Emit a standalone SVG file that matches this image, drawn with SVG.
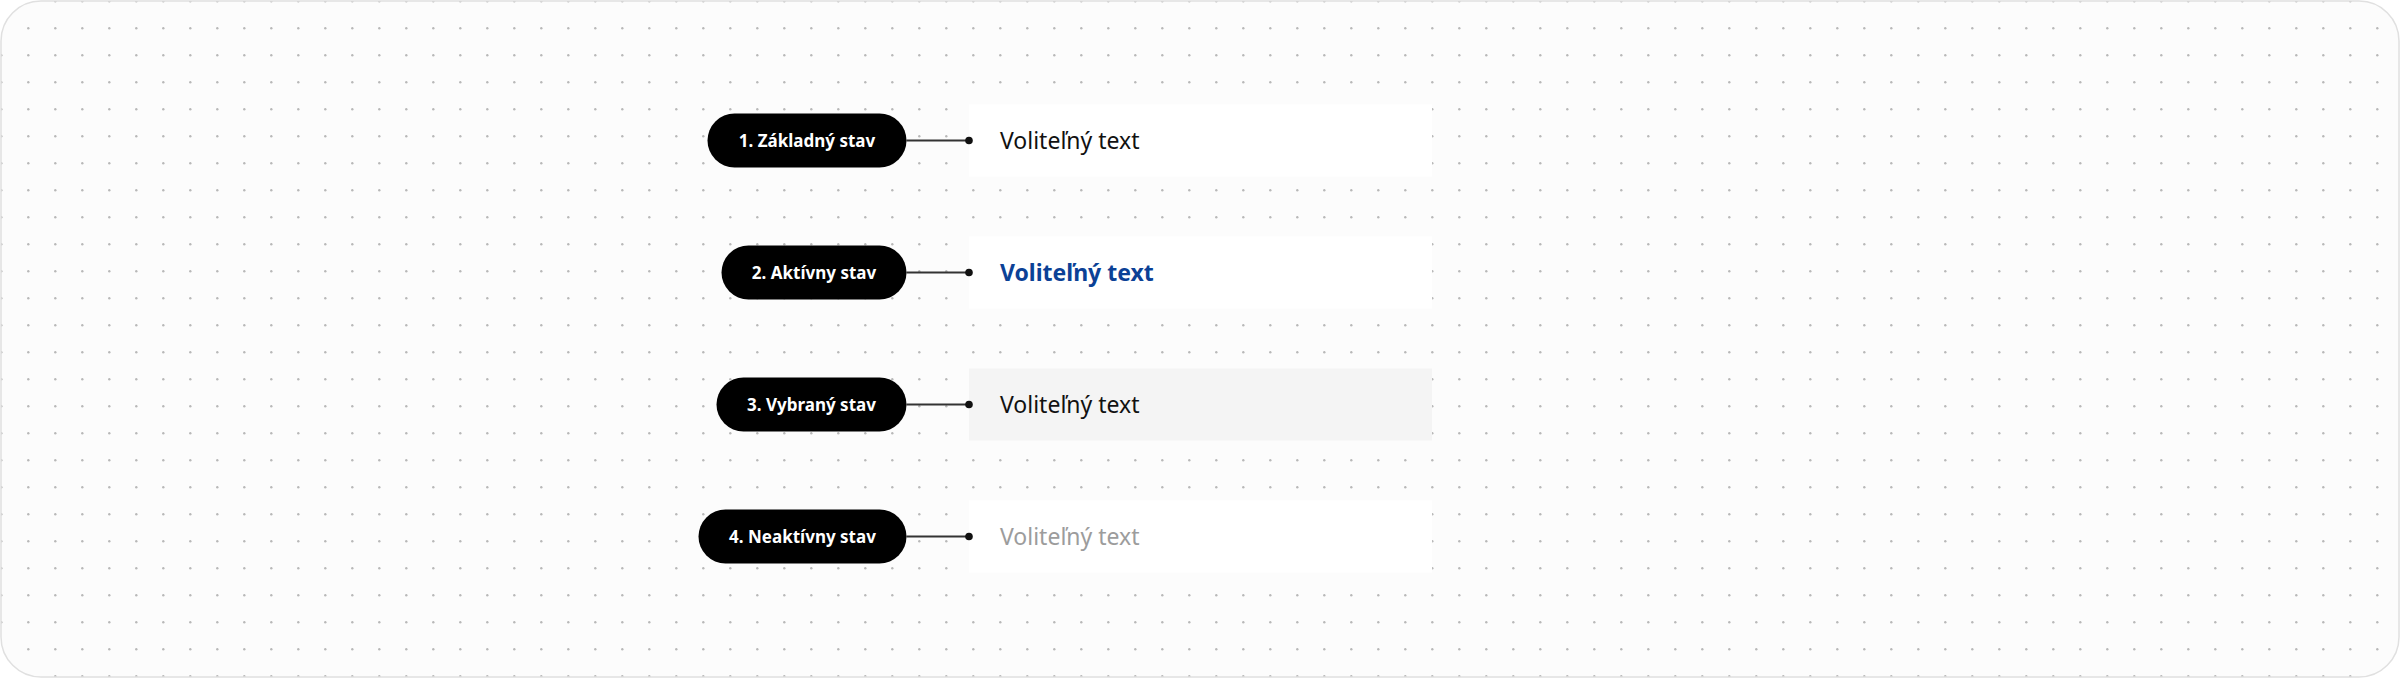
<svg xmlns="http://www.w3.org/2000/svg" width="2400" height="678" viewBox="0 0 2400 678">
  <defs>
    <pattern id="dots" x="0" y="0" width="27" height="27" patternUnits="userSpaceOnUse">
      <circle cx="1.3" cy="1.3" r="1.2" fill="#b8b8b8"/>
    </pattern>
    <style>
      .pill { fill: #000000; }
      .pilltxt { fill: #ffffff; font-family: "Noto Sans", "Open Sans", sans-serif; font-weight: 700; font-size: 17px; text-anchor: middle; }
      .box { fill: #ffffff; }
      .box.sel { fill: #f4f4f4; }
      .lbl { font-family: "Noto Sans", "Open Sans", sans-serif; font-size: 23px; fill: #111111; }
      .lbl.active { fill: #0b4196; font-weight: 700; }
      .lbl.off { fill: #9c9c9c; }
      .conn { stroke: #333333; stroke-width: 2; fill: none; }
      .end { fill: #111111; }
    </style>
  </defs>
  <rect x="1" y="1" width="2398" height="676" rx="40" ry="40" fill="#fcfcfc"/>
  <rect x="1" y="1" width="2398" height="676" rx="40" ry="40" fill="url(#dots)" stroke="#e0e0e0" stroke-width="1.5"/>

  <g id="box-1"><rect class="box" x="969" y="104.5" width="463" height="72"/><text class="lbl" x="1000" y="149">Voliteľný text</text></g>
  <g id="box-2"><rect class="box" x="969" y="236.5" width="463" height="72"/><text class="lbl active" x="1000" y="281">Voliteľný text</text></g>
  <g id="box-3"><rect class="box sel" x="969" y="368.5" width="463" height="72"/><text class="lbl" x="1000" y="413">Voliteľný text</text></g>
  <g id="box-4"><rect class="box" x="969" y="500.5" width="463" height="72"/><text class="lbl off" x="1000" y="545">Voliteľný text</text></g>

  <g id="connectors">
    <line class="conn" x1="906.5" y1="140.5" x2="969" y2="140.5"/><circle class="end" cx="969" cy="140.5" r="3.8"/>
    <line class="conn" x1="906.5" y1="272.5" x2="969" y2="272.5"/><circle class="end" cx="969" cy="272.5" r="3.8"/>
    <line class="conn" x1="906.5" y1="404.5" x2="969" y2="404.5"/><circle class="end" cx="969" cy="404.5" r="3.8"/>
    <line class="conn" x1="906.5" y1="536.5" x2="969" y2="536.5"/><circle class="end" cx="969" cy="536.5" r="3.8"/>
  </g>

  <g id="pill-1"><rect class="pill" x="707.5" y="113.5" width="199" height="54" rx="27"/><text class="pilltxt" x="807" y="146.5">1. Základný stav</text></g>
  <g id="pill-2"><rect class="pill" x="721.5" y="245.5" width="185" height="54" rx="27"/><text class="pilltxt" x="814" y="278.5">2. Aktívny stav</text></g>
  <g id="pill-3"><rect class="pill" x="716.5" y="377.5" width="190" height="54" rx="27"/><text class="pilltxt" x="811.5" y="410.5">3. Vybraný stav</text></g>
  <g id="pill-4"><rect class="pill" x="698.5" y="509.5" width="208" height="54" rx="27"/><text class="pilltxt" x="802.5" y="542.5">4. Neaktívny stav</text></g>
</svg>
